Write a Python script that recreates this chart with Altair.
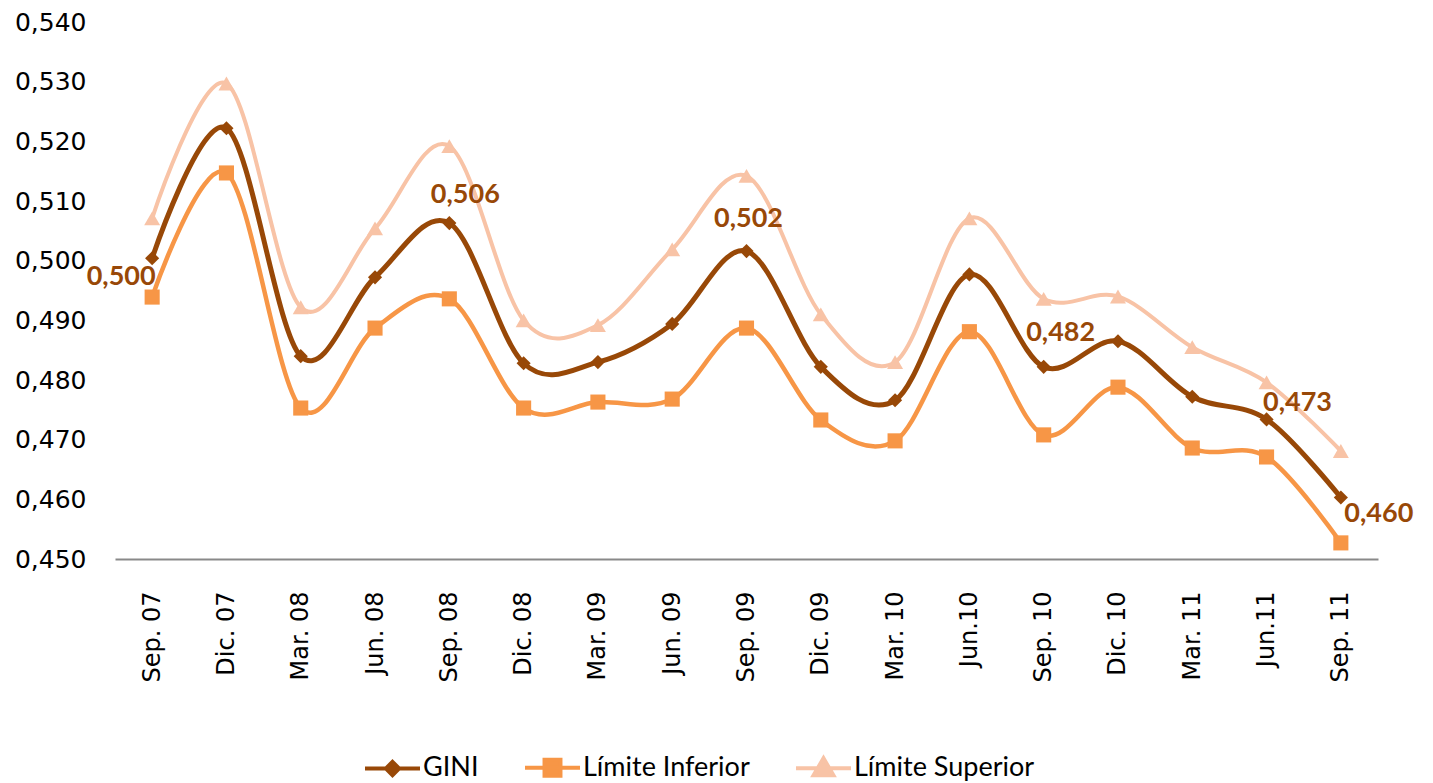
import altair as alt
import pandas as pd

periods = ["Sep. 07", "Dic. 07", "Mar. 08", "Jun. 08", "Sep. 08", "Dic. 08",
           "Mar. 09", "Jun. 09", "Sep. 09", "Dic. 09", "Mar. 10", "Jun.10",
           "Sep. 10", "Dic. 10", "Mar. 11", "Jun.11", "Sep. 11"]
gini = [0.5004, 0.5222, 0.4840, 0.4972, 0.5063, 0.4828, 0.4830, 0.4894,
        0.5016, 0.4822, 0.4766, 0.4977, 0.4822, 0.4865, 0.4772, 0.4734, 0.4603]
lim_inf = [0.4939, 0.5147, 0.4753, 0.4887, 0.4936, 0.4753, 0.4763, 0.4768,
           0.4887, 0.4733, 0.4698, 0.4881, 0.4708, 0.4788, 0.4686, 0.4671, 0.4527]
lim_sup = [0.5071, 0.5297, 0.4922, 0.5054, 0.5192, 0.4900, 0.4892, 0.5019,
           0.5142, 0.4910, 0.4830, 0.5071, 0.4936, 0.4940, 0.4855, 0.4796, 0.4681]
series_names = ["GINI", "Límite Inferior", "Límite Superior"]
series_colors = ["#984807", "#F79646", "#F8C3A6"]
y_ticks = [0.45, 0.46, 0.47, 0.48, 0.49, 0.50, 0.51, 0.52, 0.53, 0.54]

rows = []
for i, p in enumerate(periods):
    for name, vals in zip(series_names, [gini, lim_inf, lim_sup]):
        rows.append({"periodo": p, "serie": name, "valor": vals[i]})
df = pd.DataFrame(rows)

fmt = "replace(format(datum.valor, '.3f'), '.', ',')"

x_enc = alt.X("periodo:N", sort=periods, title=None,
              axis=alt.Axis(labelAngle=-90, labelFont="DejaVu Sans", labelFontSize=24,
                            labelColor="#000000", labelPadding=32, ticks=False,
                            domainColor="#898989", domainWidth=2))
y_enc = alt.Y("valor:Q", title=None,
              scale=alt.Scale(domain=[0.45, 0.54], nice=False, zero=False),
              axis=alt.Axis(values=y_ticks, grid=False, domain=False, ticks=False,
                            labelFont="DejaVu Sans", labelFontSize=25, labelColor="#000000",
                            labelPadding=29,
                            labelExpr="replace(format(datum.value, '.3f'), '.', ',')"))

legend_paths = ["M-1,0H1M0,-0.24L0.24,0L0,0.24L-0.24,0Z",
                "M-1,0H1M-0.29,-0.29H0.29V0.29H-0.29Z",
                "M-1,0H1M0,-0.36L0.36,0.26H-0.36Z"]

legend = alt.Legend(
    title=None, orient="none", direction="horizontal", legendX=248, legendY=716,
    labelFont="Lato", labelFontSize=27, labelColor="#000000", labelOffset=1,
    labelLimit=400, symbolSize=3025, columnPadding=38, symbolStrokeWidth=4,
    symbolOpacity=1,
)

color_scale = alt.Scale(domain=series_names, range=series_colors)

lines = alt.Chart(df).mark_line(interpolate="cardinal").encode(
    x=x_enc, y=y_enc,
    color=alt.Color("serie:N", scale=color_scale, legend=None, sort=series_names),
    strokeWidth=alt.StrokeWidth("serie:N", scale=alt.Scale(domain=series_names, range=[5, 4, 4]), legend=None),
)

points = alt.Chart(df).mark_point(filled=True, opacity=1).encode(
    x=x_enc, y=y_enc,
    color=alt.Color("serie:N", scale=color_scale, legend=None, sort=series_names),
    shape=alt.Shape("serie:N", scale=alt.Scale(domain=series_names, range=["diamond", "square", "triangle-up"]), legend=None),
    size=alt.Size("serie:N", scale=alt.Scale(domain=series_names, range=[200, 256, 320]), legend=None),
)

legend_layer = alt.Chart(df).mark_point(filled=True, opacity=0, size=3025, strokeWidth=4).encode(
    x=x_enc, y=y_enc,
    color=alt.Color("serie:N", scale=color_scale, legend=legend, sort=series_names),
    stroke=alt.Stroke("serie:N", scale=color_scale, legend=legend, sort=series_names),
    shape=alt.Shape("serie:N", scale=alt.Scale(domain=series_names, range=legend_paths), legend=legend, sort=series_names),
)

gini_df = df[df["serie"] == "GINI"]
base_text = alt.Chart(gini_df).transform_calculate(etiqueta=fmt)

def lbl(period, dx, dy):
    return base_text.transform_filter(alt.datum.periodo == period).mark_text(
        font="Lato", fontSize=27, fontWeight="bold", color="#984807", dx=dx, dy=dy
    ).encode(x=alt.X("periodo:N", sort=periods), y=alt.Y("valor:Q"), text="etiqueta:N")

labels = [
    lbl("Sep. 07", -31, 19),
    lbl("Sep. 08", 16, -28),
    lbl("Sep. 09", 2, -32),
    lbl("Sep. 10", 17, -34),
    lbl("Jun.11", 31, -16),
    lbl("Sep. 11", 38, 16),
]

chart = alt.layer(legend_layer, lines, points, *labels).resolve_scale(
    shape="independent", color="independent", stroke="independent"
).properties(
    width=1263, height=537,
    padding={"left": 6, "top": 2, "right": 5, "bottom": 5},
    background="#FFFFFF",
).configure_view(stroke=None)

chart.save("out.html", embed_options={"renderer": "svg", "actions": False})
